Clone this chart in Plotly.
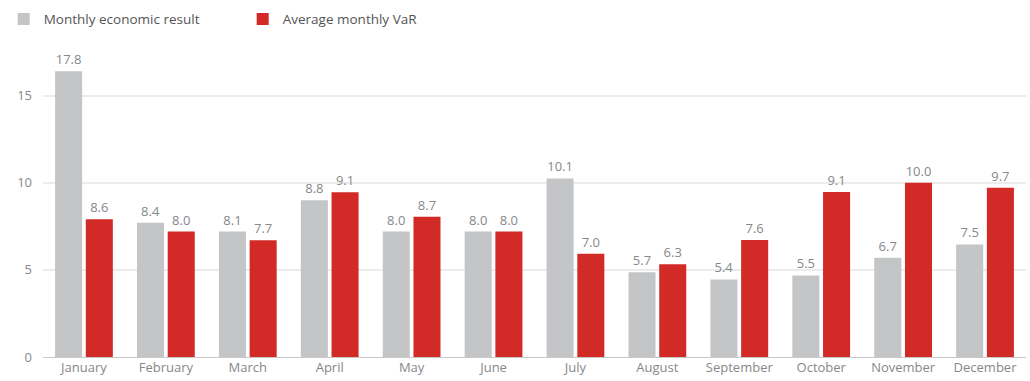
import plotly.graph_objects as go

months = ["January", "February", "March", "April", "May", "June", "July",
          "August", "September", "October", "November", "December"]

# Bar heights as read against the y axis
economic_result = [16.4, 7.7, 7.2, 9.0, 7.2, 7.2, 10.25, 4.87, 4.45, 4.68, 5.69, 6.46]
average_var = [7.9, 7.2, 6.7, 9.45, 8.05, 7.2, 5.92, 5.32, 6.71, 9.47, 10.0, 9.71]

# Data labels as printed on the chart
economic_labels = ["17.8", "8.4", "8.1", "8.8", "8.0", "8.0", "10.1", "5.7", "5.4", "5.5", "6.7", "7.5"]
var_labels = ["8.6", "8.0", "7.7", "9.1", "8.7", "8.0", "7.0", "6.3", "7.6", "9.1", "10.0", "9.7"]

y_ticks = [0, 5, 10, 15]

FONT = "Open Sans, Noto Sans, sans-serif"
GREY = "#c3c5c7"
RED = "#d22a27"
TEXT = "#86888a"

fig = go.Figure()
fig.add_trace(go.Bar(
    x=months, y=economic_result, name="Monthly economic result",
    marker=dict(color=GREY, line=dict(width=0)),
    text=economic_labels, textposition="outside", cliponaxis=False,
    textfont=dict(color=TEXT, size=13, family=FONT),
))
fig.add_trace(go.Bar(
    x=months, y=average_var, name="Average monthly VaR",
    marker=dict(color=RED, line=dict(width=0)),
    text=var_labels, textposition="outside", cliponaxis=False,
    textfont=dict(color=TEXT, size=13, family=FONT),
))

fig.update_layout(
    width=1030, height=381,
    margin=dict(l=40, r=4, t=40, b=24),
    paper_bgcolor="white", plot_bgcolor="white",
    barmode="group", bargap=0.25, bargroupgap=0.12,
    font=dict(family=FONT, size=13, color=TEXT),
    showlegend=True,
    legend=dict(
        orientation="h", x=-0.04, xanchor="left", y=1.072, yanchor="middle",
        font=dict(size=13.5, color="#555555", family=FONT),
        entrywidth=194, entrywidthmode="pixels",
        itemsizing="constant", bgcolor="rgba(0,0,0,0)",
    ),
)
fig.update_xaxes(
    showgrid=False, showline=False, ticks="",
    tickfont=dict(size=13, color=TEXT, family=FONT),
    ticklabelstandoff=1,
)
fig.update_yaxes(
    range=[0, 18.08], tickvals=y_ticks, ticktext=[str(t) for t in y_ticks],
    showgrid=True, gridcolor="#ececec", gridwidth=1.5,
    zeroline=True, zerolinecolor="#c8c8c8", zerolinewidth=1,
    showline=False, ticks="",
    tickfont=dict(size=13, color=TEXT, family=FONT),
    ticklabelstandoff=10,
)

fig.write_html("out.html")
